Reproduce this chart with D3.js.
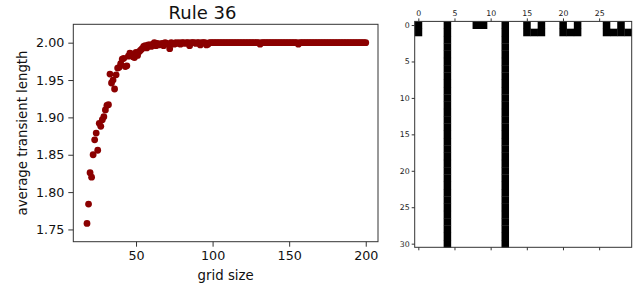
<!DOCTYPE html>
<html>
<head>
<meta charset="utf-8">
<script src="https://cdn.jsdelivr.net/npm/d3@7"></script>
<style>
  body { margin: 0; background: #fff; }
  text { font-family: "DejaVu Sans", sans-serif; }
</style>
</head>
<body>
<div id="chart"></div>
<script>
// scatter data: grid size vs average transient length
let gridSizes = d3.range(18, 201);
let avgTransient = [
  1.758, 1.784, 1.826, 1.820, 1.850, 1.870, 1.879, 1.856, 1.892, 1.888,
  1.897, 1.901, 1.910, 1.916, 1.917, 1.958, 1.946, 1.950, 1.938, 1.957,
  1.966, 1.967, 1.972, 1.978, 1.979, 1.968, 1.969, 1.982, 1.986, 1.985,
  1.981, 1.980, 1.987, 1.983, 1.988, 1.990, 1.992, 1.995, 1.996, 1.993,
  1.997, 1.997, 1.995, 1.998, 2.000, 1.996, 1.999, 1.997, 1.998, 1.999,
  1.996, 2.000, 1.999, 1.998, 1.992, 2.000, 1.999, 1.998, 2.000, 1.999,
  2.000, 1.998, 2.000, 2.000, 1.999, 2.000, 2.000, 1.996, 2.000, 2.000,
  2.000, 1.999, 2.000, 2.000, 1.997, 2.000, 2.000, 2.000, 1.997, 1.998,
  2.000, 2.000, 2.000, 2.000, 2.000, 2.000, 2.000, 2.000, 2.000, 2.000,
  2.000, 2.000, 2.000, 2.000, 2.000, 2.000, 2.000, 2.000, 2.000, 2.000,
  2.000, 2.000, 2.000, 2.000, 2.000, 2.000, 2.000, 2.000, 2.000, 2.000,
  2.000, 2.000, 2.000, 1.998, 2.000, 2.000, 2.000, 2.000, 2.000, 2.000,
  2.000, 2.000, 2.000, 2.000, 2.000, 2.000, 2.000, 2.000, 2.000, 2.000,
  2.000, 2.000, 2.000, 2.000, 2.000, 2.000, 2.000, 2.000, 1.998, 2.000,
  2.000, 2.000, 2.000, 2.000, 2.000, 2.000, 2.000, 2.000, 2.000, 2.000,
  2.000, 2.000, 2.000, 2.000, 2.000, 2.000, 2.000, 2.000, 2.000, 2.000,
  2.000, 2.000, 2.000, 2.000, 2.000, 2.000, 2.000, 2.000, 2.000, 2.000,
  2.000, 2.000, 2.000, 2.000, 2.000, 2.000, 2.000, 2.000, 2.000, 2.000,
  2.000, 2.000, 2.000
];
let xTicks = [50, 100, 150, 200];
let yTicks = [1.75, 1.80, 1.85, 1.90, 1.95, 2.00];

// cellular automaton grid (1 = black), rows 2..30 all the same
let row0 = "100010001100100101001010001010";
let row1 = "100010000000100111001110001111";
let steadyRow = "000010000000100000000000000000";
let gridRows = [row0, row1].concat(Array(29).fill(steadyRow));
let gridXTicks = [0, 5, 10, 15, 20, 25];
let gridYTicks = [0, 5, 10, 15, 20, 25, 30];

let width = 642;
let height = 285;

let svg = d3
  .select("#chart")
  .append("svg")
  .attr("width", width)
  .attr("height", height);

// ---------- left: scatter ----------
let left = { x0: 73.3, x1: 378, y0: 24.3, y1: 241.7 };

let xScale = d3.scaleLinear().domain([9.05, 208]).range([left.x0, left.x1]);
let yScale = d3.scaleLinear().domain([1.7336, 2.0246]).range([left.y1, left.y0]);

let xAxis = d3
  .axisBottom(xScale)
  .tickValues(xTicks)
  .tickSize(5)
  .tickPadding(4)
  .tickFormat(d3.format("d"));
let yAxis = d3
  .axisLeft(yScale)
  .tickValues(yTicks)
  .tickSize(5)
  .tickPadding(4)
  .tickFormat(d3.format(".2f"));

let gx = svg
  .append("g")
  .attr("transform", `translate(0, ${left.y1})`)
  .call(xAxis);
let gy = svg
  .append("g")
  .attr("transform", `translate(${left.x0}, 0)`)
  .call(yAxis);
[gx, gy].forEach(g => {
  g.select(".domain").remove();
  g.selectAll("line").attr("stroke", "#333");
  g.selectAll("text")
    .attr("fill", "#111")
    .style("font-size", "12.7px");
});

// points
svg
  .append("g")
  .selectAll("circle")
  .data(gridSizes)
  .enter()
  .append("circle")
  .attr("cx", (d, i) => xScale(d))
  .attr("cy", (d, i) => yScale(avgTransient[i]))
  .attr("r", 3.4)
  .attr("fill", "#8b0000");

// frame
svg
  .append("rect")
  .attr("x", left.x0)
  .attr("y", left.y0)
  .attr("width", left.x1 - left.x0)
  .attr("height", left.y1 - left.y0)
  .attr("fill", "none")
  .attr("stroke", "#333")
  .attr("stroke-width", 1);

// title and labels
svg
  .append("text")
  .attr("x", 202.5)
  .attr("y", 19)
  .style("text-anchor", "middle")
  .style("font-size", "18px")
  .attr("fill", "#111")
  .text("Rule 36");
svg
  .append("text")
  .attr("x", (left.x0 + left.x1) / 2)
  .attr("y", 279.5)
  .style("text-anchor", "middle")
  .style("font-size", "13.3px")
  .attr("fill", "#111")
  .text("grid size");
svg
  .append("text")
  .attr("transform", `translate(26.5, ${(left.y0 + left.y1) / 2}) rotate(-90)`)
  .style("text-anchor", "middle")
  .style("font-size", "13.3px")
  .attr("fill", "#111")
  .text("average transient length");

// ---------- right: automaton image ----------
let right = { x0: 414.7, x1: 631.7, y0: 21.4, y1: 247.3 };
let nCols = row0.length;
let nRows = gridRows.length;

let cx = d3.scaleLinear().domain([-0.5, nCols - 0.5]).range([right.x0, right.x1]);
let cy = d3.scaleLinear().domain([-0.5, nRows - 0.5]).range([right.y0, right.y1]);

let cells = [];
gridRows.forEach((row, r) => {
  row.split("").forEach((v, c) => {
    if (v === "1") cells.push({ r: r, c: c });
  });
});

svg
  .append("rect")
  .attr("x", right.x0)
  .attr("y", right.y0)
  .attr("width", right.x1 - right.x0)
  .attr("height", right.y1 - right.y0)
  .attr("fill", "#fff");

svg
  .append("g")
  .selectAll("rect")
  .data(cells)
  .enter()
  .append("rect")
  .attr("x", d => cx(d.c - 0.5))
  .attr("y", d => cy(d.r - 0.5))
  .attr("width", cx(1) - cx(0) + 0.3)
  .attr("height", cy(1) - cy(0) + 0.3)
  .attr("fill", "#000");

let topAxis = d3.axisTop(cx).tickValues(gridXTicks).tickSize(3).tickPadding(2);
let bottomAxis = d3.axisBottom(cx).tickValues(gridXTicks).tickSize(3).tickFormat("");
let sideAxis = d3.axisLeft(cy).tickValues(gridYTicks).tickSize(3).tickPadding(2);

let gt = svg.append("g").attr("transform", `translate(0, ${right.y0})`).call(topAxis);
let gb = svg.append("g").attr("transform", `translate(0, ${right.y1})`).call(bottomAxis);
let gs = svg.append("g").attr("transform", `translate(${right.x0}, 0)`).call(sideAxis);
[gt, gb, gs].forEach(g => {
  g.select(".domain").remove();
  g.selectAll("line").attr("stroke", "#333");
  g.selectAll("text")
    .attr("fill", "#222")
    .style("font-size", "7.8px");
});

svg
  .append("rect")
  .attr("x", right.x0)
  .attr("y", right.y0)
  .attr("width", right.x1 - right.x0)
  .attr("height", right.y1 - right.y0)
  .attr("fill", "none")
  .attr("stroke", "#333")
  .attr("stroke-width", 1);
</script>
</body>
</html>
